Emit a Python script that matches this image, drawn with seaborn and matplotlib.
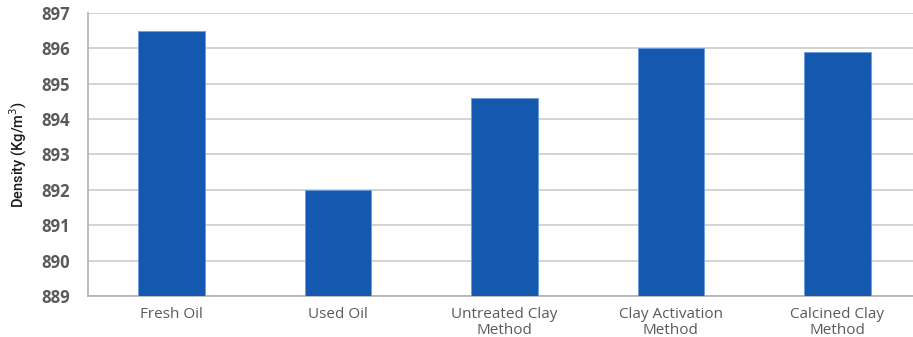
import matplotlib
matplotlib.use("Agg")
import matplotlib.pyplot as plt
import seaborn as sns
import pandas as pd

categories = ["Fresh Oil", "Used Oil", "Untreated Clay\nMethod",
              "Clay Activation\nMethod", "Calcined Clay\nMethod"]
density = [896.5, 892.0, 894.6, 896.0, 895.9]
y_ticks = [889, 890, 891, 892, 893, 894, 895, 896, 897]

df = pd.DataFrame({"category": categories, "density": density})

sns.set_theme(style="white")
plt.rcParams["font.family"] = ["Open Sans", "DejaVu Sans"]

fig = plt.figure(figsize=(9.13, 3.37), dpi=100)
ax = fig.add_axes([0.0964, 0.1217, 0.912, 0.8397])

sns.barplot(data=df, x="category", y="density", color="#1558B0",
            saturation=1, width=0.40, ax=ax, zorder=3)
for p in ax.patches:
    p.set_edgecolor("#6a9be0")
    p.set_linewidth(0.6)

ax.set_ylim(889, 897)
ax.set_yticks(y_ticks)
ax.yaxis.grid(True, color="#cccccc", linewidth=1.2, zorder=0)
ax.set_axisbelow(True)

gray = "#5a5a5a"
ax.tick_params(axis="y", labelsize=12, colors=gray, length=5, width=1,
               direction="out", color="#b0b0b0", pad=8)
ax.tick_params(axis="x", labelsize=11, colors=gray, length=0, pad=8)
for lbl in ax.get_yticklabels():
    lbl.set_fontweight("bold")
for lbl in ax.get_xticklabels():
    lbl.set_linespacing(1.05)

for side in ["top", "right"]:
    ax.spines[side].set_visible(False)
for side in ["left", "bottom"]:
    ax.spines[side].set_color("#b0b0b0")
    ax.spines[side].set_linewidth(1.2)

ax.set_xlabel("")
ax.set_ylabel("Density (Kg/m$^3$)", fontsize=10.5, color="#1a1a1a",
              fontweight="medium", family=["Roboto", "DejaVu Sans"],
              labelpad=9)

fig.savefig("out.png", dpi=100)
